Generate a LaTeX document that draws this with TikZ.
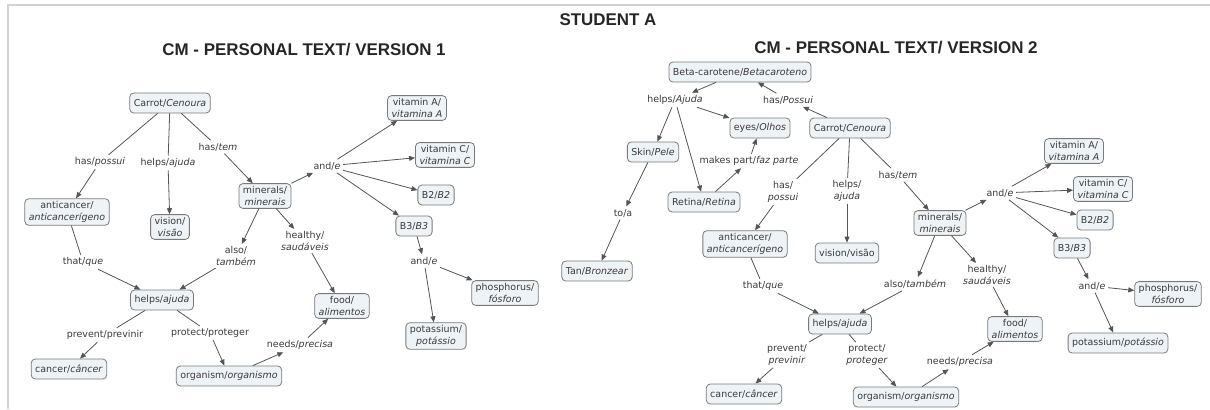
\documentclass[tikz,border=0pt]{standalone}
\usepackage{fontspec}
\setmainfont{DejaVu Sans}
\newfontfamily\titlefont{Liberation Sans}
\usetikzlibrary{arrows.meta}
\definecolor{boxfill}{HTML}{EEF3F8}
\definecolor{boxline}{HTML}{7A7A7A}
\definecolor{ink}{HTML}{3A3A3A}
\definecolor{linkline}{HTML}{555555}

\begin{document}
\begin{tikzpicture}[x=1bp,y=-1bp,font=\fontsize{9.5}{11.5}\selectfont]
    \tikzstyle{concept}=[draw=boxline,fill=boxfill,rounded corners=4bp,line width=0.8bp,text=ink,align=center,inner xsep=4bp,inner ysep=3bp,minimum height=20bp]
    \tikzstyle{phrase}=[text=ink,align=center,inner sep=2.5bp]
    \tikzstyle{title}=[font=\titlefont\fontsize{17}{20}\selectfont\bfseries,text=black!85]
    \tikzstyle{link}=[draw=linkline,line width=0.8bp]
    \tikzstyle{arrow}=[link,-{Triangle[length=6bp,width=5bp]}]

    \useasboundingbox (0,0) rectangle (1210,409);
    \draw[gray!35,line width=1.5bp] (8,409) -- (8,5) -- (1210,5);

    \node[title] (student) at (608,20) {STUDENT A};
    \node[title] (title-1) at (304,50) {CM - PERSONAL TEXT/ VERSION 1};
    \node[title] (title-2) at (896,48) {CM - PERSONAL TEXT/ VERSION 2};

    % version 1
    \node[concept] (A-carrot) at (170,103) {Carrot/\textit{Cenoura}};
    \node[concept] (A-anti) at (67,212) {anticancer/\\\textit{anticancerígeno}};
    \node[concept] (A-vision) at (170,227) {vision/\\\textit{visão}};
    \node[concept] (A-min) at (265,196) {minerals/\\\textit{minerais}};
    \node[concept] (A-vitA) at (417,108) {vitamin A/\\\textit{vitamina A}};
    \node[concept] (A-vitC) at (445,155) {vitamin C/\\\textit{vitamina C}};
    \node[concept] (A-b2) at (436,195) {B2/\textit{B2}};
    \node[concept] (A-b3) at (414,226) {B3/\textit{B3}};
    \node[concept] (A-helps) at (162,300) {helps/\textit{ajuda}};
    \node[concept] (A-food) at (342,306) {food/\\\textit{alimentos}};
    \node[concept] (A-phos) at (505,293) {phosphorus/\\\textit{fósforo}};
    \node[concept] (A-pot) at (436,336) {potassium/\\\textit{potássio}};
    \node[concept] (A-cancer) at (69,369) {cancer/\textit{câncer}};
    \node[concept] (A-org) at (229,376) {organism/\textit{organismo}};

    \node[phrase] (A-has1) at (100,162) {has/\textit{possui}};
    \node[phrase] (A-helps1) at (168,163) {helps/\textit{ajuda}};
    \node[phrase] (A-has2) at (218,147) {has/\textit{tem}};
    \node[phrase] (A-and1) at (327,166) {and/\textit{e}};
    \node[phrase] (A-also) at (236,256) {also/\\\textit{também}};
    \node[phrase] (A-healthy) at (305,241) {healthy/\\\textit{saudáveis}};
    \node[phrase] (A-that) at (83,262) {that/\textit{que}};
    \node[phrase] (A-prevent) at (105,335) {prevent/previnir};
    \node[phrase] (A-protect) at (210,333) {protect/proteger};
    \node[phrase] (A-needs) at (300,345) {needs/\textit{precisa}};
    \node[phrase] (A-and2) at (424,261) {and/\textit{e}};

    \foreach \from/\to in {A-carrot/A-has1, A-carrot/A-helps1, A-carrot/A-has2,
                           A-anti/A-that, A-helps/A-prevent, A-helps/A-protect}
        \draw[link] (\from) -- (\to);
    \foreach \from/\to in {A-has1/A-anti, A-helps1/A-vision, A-has2/A-min,
                           A-min/A-and1, A-and1/A-vitA, A-and1/A-vitC, A-and1/A-b2, A-and1/A-b3,
                           A-b3/A-and2, A-and2/A-phos, A-and2/A-pot,
                           A-min/A-also, A-min/A-healthy, A-also/A-helps, A-healthy/A-food,
                           A-that/A-helps, A-prevent/A-cancer, A-protect/A-org,
                           A-org/A-needs, A-needs/A-food}
        \draw[arrow] (\from) -- (\to);

    % version 2
    \node[concept] (B-beta) at (740,72) {Beta-carotene/\textit{Betacaroteno}};
    \node[concept] (B-eyes) at (760,128) {eyes/\textit{Olhos}};
    \node[concept] (B-carrot) at (850,128) {Carrot/\textit{Cenoura}};
    \node[concept] (B-skin) at (653,152) {Skin/\textit{Pele}};
    \node[concept] (B-retina) at (704,202) {Retina/\textit{Retina}};
    \node[concept] (B-tan) at (597,271) {Tan/\textit{Bronzear}};
    \node[concept] (B-anti) at (745,244) {anticancer/\\\textit{anticancerígeno}};
    \node[concept] (B-vision) at (847,253) {vision/visão};
    \node[concept] (B-min) at (940,223) {minerals/\\\textit{minerais}};
    \node[concept] (B-vitA) at (1074,151) {vitamin A/\\\textit{vitamina A}};
    \node[concept] (B-vitC) at (1103,189) {vitamin C/\\\textit{vitamina C}};
    \node[concept] (B-b2) at (1095,220) {B2/\textit{B2}};
    \node[concept] (B-b3) at (1072,248) {B3/\textit{B3}};
    \node[concept] (B-helps) at (840,324) {helps/\textit{ajuda}};
    \node[concept] (B-cancer) at (744,394) {cancer/\textit{câncer}};
    \node[concept] (B-org) at (906,397) {organism/\textit{organismo}};
    \node[concept] (B-food) at (1015,329) {food/\\\textit{alimentos}};
    \node[concept] (B-phos) at (1168,294) {phosphorus/\\\textit{fósforo}};
    \node[concept] (B-pot) at (1118,343) {potassium/\textit{potássio}};

    \node[phrase] (B-helps1) at (675,100) {helps/\textit{Ajuda}};
    \node[phrase] (B-has1) at (788,100) {has/\textit{Possui}};
    \node[phrase] (B-part) at (749,161) {makes part/\textit{faz parte}};
    \node[phrase] (B-to) at (623,213) {to/a};
    \node[phrase] (B-has2) at (783,192) {has/\\\textit{possui}};
    \node[phrase] (B-helps2) at (847,191) {helps/\\\textit{ajuda}};
    \node[phrase] (B-has3) at (898,175) {has/\textit{tem}};
    \node[phrase] (B-and1) at (1000,193) {and/\textit{e}};
    \node[phrase] (B-that) at (763,286) {that/\textit{que}};
    \node[phrase] (B-also) at (915,284) {also/\textit{também}};
    \node[phrase] (B-healthy) at (987,275) {healthy/\\\textit{saudáveis}};
    \node[phrase] (B-prevent) at (787,355) {prevent/\\\textit{previnir}};
    \node[phrase] (B-protect) at (867,355) {protect/\\\textit{proteger}};
    \node[phrase] (B-needs) at (960,362) {needs/\textit{precisa}};
    \node[phrase] (B-and2) at (1092,286) {and/\textit{e}};

    \foreach \from/\to in {B-carrot/B-has2, B-carrot/B-helps2, B-carrot/B-has3,
                           B-anti/B-that, B-helps/B-prevent, B-helps/B-protect}
        \draw[link] (\from) -- (\to);
    \foreach \from/\to in {B-beta/B-helps1, B-carrot/B-has1, B-has1/B-beta,
                           B-helps1/B-eyes, B-helps1/B-skin, B-helps1/B-retina,
                           B-retina/B-part, B-part/B-eyes, B-skin/B-to, B-to/B-tan,
                           B-has2/B-anti, B-helps2/B-vision, B-has3/B-min,
                           B-min/B-and1, B-and1/B-vitA, B-and1/B-vitC, B-and1/B-b2, B-and1/B-b3,
                           B-b3/B-and2, B-and2/B-phos, B-and2/B-pot,
                           B-min/B-also, B-min/B-healthy, B-also/B-helps, B-healthy/B-food,
                           B-that/B-helps, B-prevent/B-cancer, B-protect/B-org,
                           B-org/B-needs, B-needs/B-food}
        \draw[arrow] (\from) -- (\to);
\end{tikzpicture}
\end{document}
